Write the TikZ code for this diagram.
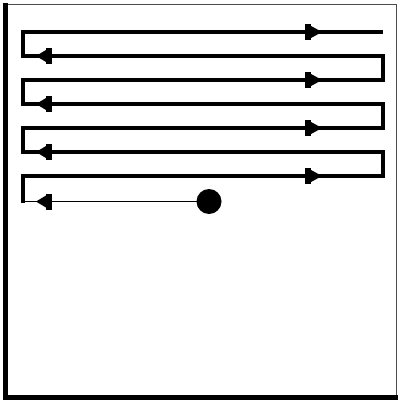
\documentclass[tikz,border=0pt]{standalone}
\begin{document}
\begin{tikzpicture}[x=1pt,y=-1pt,
  pathline/.style={line width=3.5pt,line join=miter,line cap=butt},
  thinline/.style={line width=1.8pt},
  dotnode/.style={circle,fill=black,inner sep=0pt,minimum size=25pt},
  rtip/.pic={\fill (0,-8) rectangle (6,8); \fill (6,-6) -- (17,0) -- (6,6) -- cycle;},
  ltip/.pic={\fill (0,-8) rectangle (-6,8); \fill (-6,-6) -- (-16,0) -- (-6,6) -- cycle;}]
\useasboundingbox (0,0) rectangle (398,401);
% frame
\draw[line width=1.5pt,gray!60!black] (5,4.5) -- (396.5,4.5) -- (396.5,396);
\draw[line width=5.5pt] (5.5,3.5) -- (5.5,397.5) -- (398,397.5);
% corners of the serpentine
\coordinate (s) at (383,32);
\coordinate (l1) at (23,32);  \coordinate (l2) at (23,56);
\coordinate (r2) at (383,56); \coordinate (r3) at (383,80);
\coordinate (l3) at (23,80);  \coordinate (l4) at (23,104);
\coordinate (r4) at (383,104); \coordinate (r5) at (383,128);
\coordinate (l5) at (23,128); \coordinate (l6) at (23,152);
\coordinate (r6) at (383,152); \coordinate (r7) at (383,176);
\coordinate (l7) at (23,176); \coordinate (l8) at (23,201.5);
\node[dotnode] (dot) at (209,201.5) {};
\draw[pathline] (s) -- (l1) -- (l2) -- (r2) -- (r3) -- (l3) -- (l4) -- (r4) -- (r5) -- (l5) -- (l6) -- (r6) -- (r7) -- (l7) -- ([yshift=-1.5pt]l8);
\draw[thinline] ([xshift=-1.7pt]l8) -- (dot.center);
% arrow marks
\foreach \y in {32,80,128,176} \pic at (305,\y) {rtip};
\foreach \y in {56,104,152,201.5} \pic at (52,\y) {ltip};
\end{tikzpicture}
\end{document}
